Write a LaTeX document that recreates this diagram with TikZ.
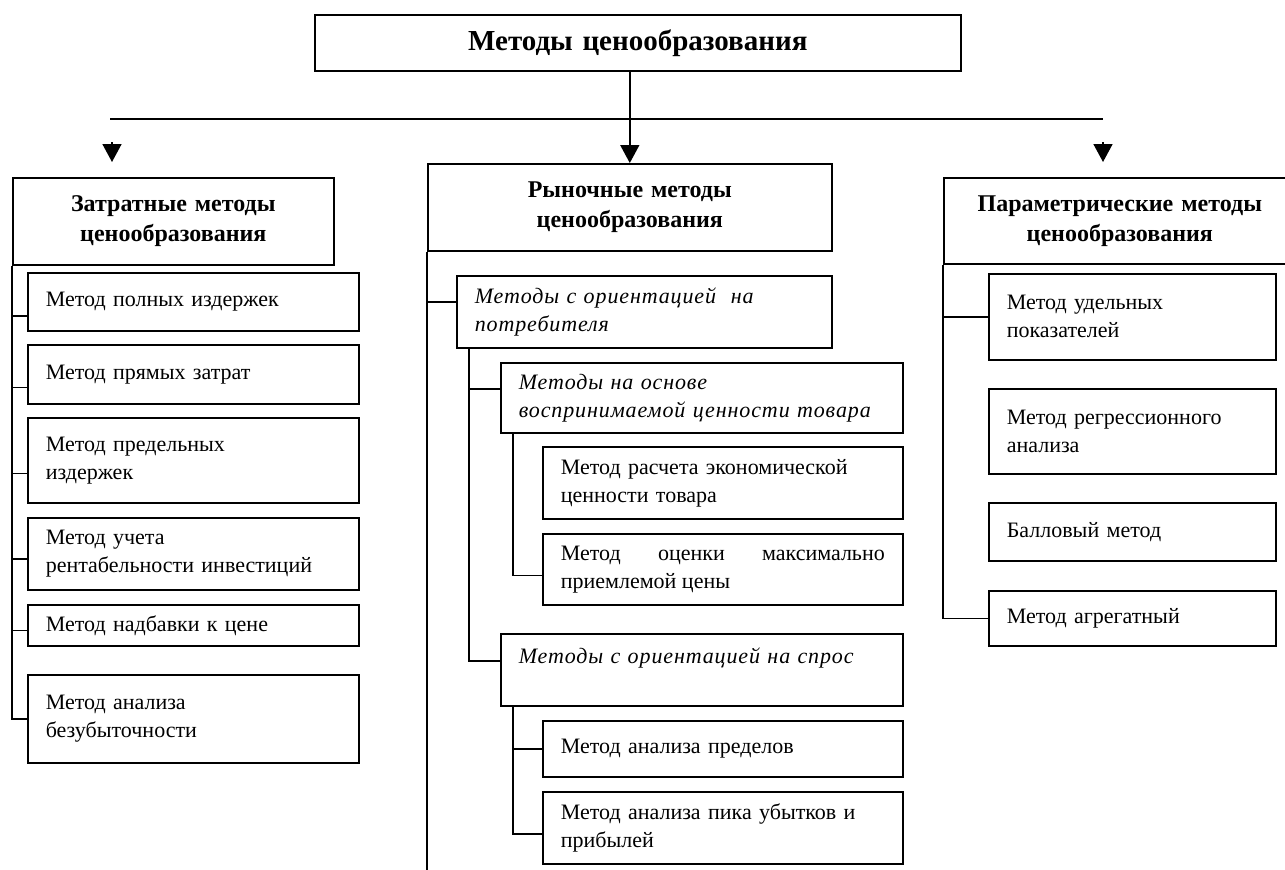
\documentclass[tikz,border=0pt]{standalone}
\usepackage{fontspec}
\setmainfont{Liberation Serif}
\newfontfamily\subfont{Liberation Serif}[LetterSpace=4]
\usetikzlibrary{arrows.meta,positioning,calc}

\tikzset{
  box/.style={draw, line width=0.8pt, anchor=north west, inner xsep=9pt,
    align=left, font=\fontsize{11}{14}\selectfont},
  head/.style={box, align=center, font=\fontsize{12}{15}\selectfont\bfseries},
  sub/.style={box, font=\fontsize{11}{14}\selectfont\subfont\itshape},
  wd/.style={minimum width=#1*0.5pt, text width=#1*0.5pt-18pt},
  ht/.style={minimum height=#1*0.5pt},
  link/.style={line width=0.8pt},
  tip/.style={line width=0.8pt, -{Triangle[length=9pt,width=9.5pt]}}
}

\begin{document}
\begin{tikzpicture}[x=0.5pt,y=-0.5pt]
\useasboundingbox (0,0) rectangle (1285,869);
% top
\node[head, wd=646, ht=56, font=\fontsize{14.5}{17}\selectfont\bfseries] (top) at (314,14) {Методы ценообразования};
\coordinate (hl) at (110,119);
\coordinate (hr) at (1103,119);
\draw[link] (hl) -- (hr);
\coordinate (al1) at (112,142);
\coordinate (al2) at (112,162);
\coordinate (ar1) at (1103,142);
\coordinate (ar2) at (1103,162);
\draw[tip] (al1) -- (al2);
\draw[tip] (ar1) -- (ar2);

% cost methods
\node[head, wd=321, ht=87] (zh) at (12,177) {Затратные методы\\ценообразования};
\node[box, wd=331, ht=58] (z1) at (27,272) {Метод полных издержек};
\node[box, wd=331, ht=59] (z2) at (27,344) {Метод прямых затрат};
\node[box, wd=331, ht=85] (z3) at (27,417) {Метод предельных\\издержек};
\node[box, wd=331, ht=72] (z4) at (27,517) {Метод учета\\рентабельности инвестиций};
\node[box, wd=331, ht=41] (z5) at (27,604) {Метод надбавки к цене};
\node[box, wd=331, ht=88] (z6) at (27,674) {Метод анализа\\безубыточности};
\draw[link] (zh.south west) |- (z6.west);
\foreach \n/\s in {z1/-7,z2/-6.5,z3/-6.5,z4/-2.5,z5/-2.5}
  \draw[link] (zh.south west) |- ([yshift=\s pt]\n.west);

% market methods
\node[head, wd=404, ht=87] (rh) at (427,163) {Рыночные методы\\ценообразования};
\draw[tip] (top.south -| rh.north) -- (rh.north);
\node[sub, wd=375, ht=72] (m1) at (456,275) {Методы с ориентацией \ на\\потребителя};
\node[sub, wd=402, ht=70] (m1a) at (500,362) {Методы на основе\\воспринимаемой ценности товара};
\node[box, wd=360, ht=72] (l1) at (542,446) {Метод расчета экономической\\ценности товара};
\node[box, wd=360, ht=71, align=justify] (l2) at (542,533) {Метод оценки максимально\linebreak приемлемой цены};
\node[sub, wd=402, ht=72] (m2) at (500,633) {Методы с ориентацией на спрос\\\mbox{}};
\node[box, wd=360, ht=56] (l3) at (542,720) {Метод анализа пределов};
\node[box, wd=360, ht=72] (l4) at (542,791) {Метод анализа пика убытков и\\прибылей};
\coordinate (mbot) at (rh.south west |- 0,880);
\draw[link] (rh.south west) -- (mbot);
\draw[link] (rh.south west) |- ([yshift=5pt]m1.west);
\draw[link] ([xshift=6.5pt]m1.south west) |- ([yshift=4.5pt]m1a.west);
\draw[link] ([xshift=6.5pt]m1.south west) |- ([yshift=4.5pt]m2.west);
\draw[link] ([xshift=6.5pt]m1a.south west) |- ([yshift=-3pt]l2.west);
\draw[link] ([xshift=6.5pt]m2.south west) |- (l3.west);
\draw[link] ([xshift=6.5pt]m2.south west) |- ([yshift=-3pt]l4.west);

% parametric methods
\node[head, wd=352, ht=86] (ph) at (943,177) {Параметрические методы\\ценообразования};
\node[box, wd=287, ht=86] (p1) at (988,273) {Метод удельных\\показателей};
\node[box, wd=287, ht=85] (p2) at (988,388) {Метод регрессионного\\анализа};
\node[box, wd=287, ht=58] (p3) at (988,502) {Балловый метод};
\node[box, wd=287, ht=55] (p4) at (988,590) {Метод агрегатный};
\draw[link] (ph.south west) |- (p1.west);
\draw[link] (ph.south west) |- (p4.west);
\end{tikzpicture}
\end{document}
